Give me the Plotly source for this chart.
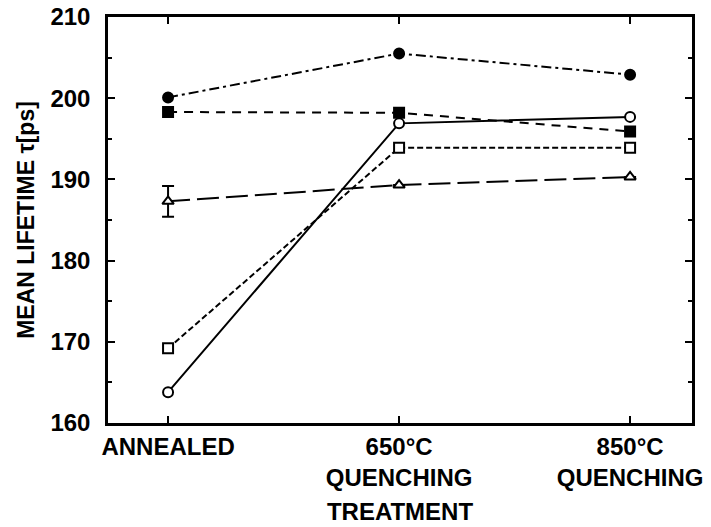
import plotly.graph_objects as go

categories = ["ANNEALED", "650°C<br>QUENCHING", "850°C<br>QUENCHING"]
x_pos = [0, 1, 2]

filled_circle = [200.1, 205.5, 202.9]
filled_square = [198.3, 198.2, 195.9]
open_circle = [163.8, 196.9, 197.7]
open_square = [169.2, 193.9, 193.9]
open_triangle = [187.3, 189.3, 190.3]
triangle_err = [1.9, None, None]

y_ticks = [160, 170, 180, 190, 200, 210]

FONT = "Liberation Sans, Arial, sans-serif"

fig = go.Figure()

def add(y, dash, symbol, fill, err=None):
    kw = {}
    if err is not None:
        kw["error_y"] = dict(type="data", array=err, visible=True, color="black",
                             thickness=2, width=6)
    fig.add_trace(go.Scatter(
        x=x_pos, y=y, mode="lines+markers",
        line=dict(color="black", width=2, dash=dash),
        marker=dict(symbol=symbol, size=10, color=fill,
                    line=dict(color="black", width=2)),
        showlegend=False, **kw))

add(filled_circle, "10px,4px,3px,4px", "circle", "black")
add(filled_square, "9px,7px", "square", "black")
add(open_triangle, "22px,7px", "triangle-up", "white", triangle_err)
add(open_square, "6px,3px", "square", "white")
add(open_circle, "solid", "circle", "white")

fig.update_layout(
    width=711, height=527,
    margin=dict(l=108, r=19, t=17, b=104),
    paper_bgcolor="white", plot_bgcolor="white",
    font=dict(family=FONT, size=22, color="black", weight="bold"),
)
fig.update_xaxes(
    range=[-0.26, 2.268], tickvals=x_pos, ticktext=categories,
    showline=True, linecolor="black", linewidth=2.5, mirror="ticks",
    ticks="inside", ticklen=7, tickwidth=2, tickcolor="black",
    showgrid=False, zeroline=False, automargin=False,
    tickfont=dict(family=FONT, size=24, weight="bold"),
    title=dict(text="TREATMENT", font=dict(family=FONT, size=24, weight="bold"), standoff=14),
)
fig.update_yaxes(
    range=[160, 210], tickvals=y_ticks,
    showline=True, linecolor="black", linewidth=2.5, mirror="ticks",
    ticks="inside", ticklen=7, tickwidth=2, tickcolor="black",
    minor=dict(dtick=5, ticks="inside", ticklen=4, tickwidth=1.5, tickcolor="black"),
    showgrid=False, zeroline=False, automargin=False,
    ticklabelstandoff=10,
    tickfont=dict(family=FONT, size=24, weight="bold"),
    title=dict(text="MEAN LIFETIME τ[ps]", font=dict(family=FONT, size=23, weight="bold"), standoff=10),
)

fig.write_html("out.html")
